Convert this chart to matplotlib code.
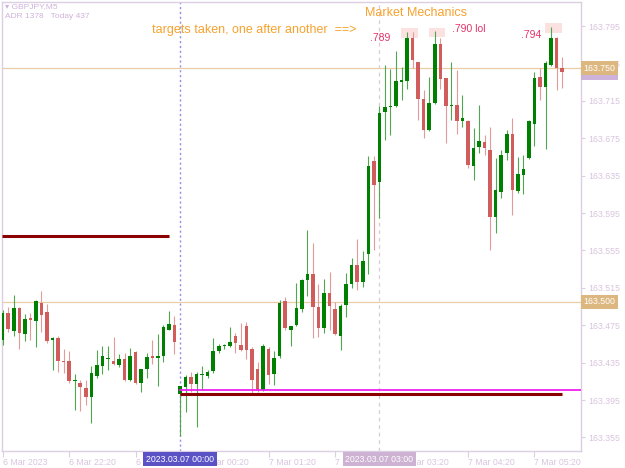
"""GBPJPY M5 candles with the 'targets taken' annotations, MT4 look."""
import matplotlib

matplotlib.use("Agg")
import matplotlib.pyplot as plt
import numpy as np
from matplotlib.patches import Rectangle
from matplotlib.transforms import blended_transform_factory

W, H = 625, 468

# OHLC per M5 bar, 6 Mar 21:20 -> 7 Mar 05:45
opens = [
    163.459, 163.488, 163.469, 163.493, 163.466, 163.482, 163.479, 163.499, 163.489, 163.459,
    163.461, 163.437, 163.437, 163.415, 163.413, 163.408, 163.398, 163.421, 163.431, 163.439,
    163.437, 163.432, 163.439, 163.416, 163.446, 163.413, 163.428, 163.442, 163.440, 163.442,
    163.470, 163.475, 163.401, 163.409, 163.420, 163.412, 163.422, 163.421, 163.426, 163.447,
    163.453, 163.453, 163.464, 163.454, 163.474, 163.450, 163.428, 163.406, 163.450, 163.423,
    163.442, 163.501, 163.470, 163.475, 163.492, 163.523, 163.530, 163.494, 163.472, 163.510,
    163.492, 163.464, 163.497, 163.519, 163.539, 163.521, 163.551, 163.651, 163.628, 163.703,
    163.708, 163.709, 163.735, 163.736, 163.782, 163.757, 163.717, 163.684, 163.713, 163.776,
    163.739, 163.709, 163.711, 163.693, 163.693, 163.645, 163.666, 163.671, 163.662, 163.591,
    163.618, 163.659, 163.679, 163.619, 163.636, 163.654, 163.690, 163.741, 163.730, 163.753,
    163.782, 163.750,
]
highs = [
    163.491, 163.495, 163.507, 163.494, 163.487, 163.488, 163.502, 163.512, 163.498, 163.462,
    163.464, 163.450, 163.447, 163.423, 163.416, 163.416, 163.431, 163.448, 163.453, 163.453,
    163.462, 163.444, 163.445, 163.451, 163.447, 163.428, 163.445, 163.459, 163.466, 163.475,
    163.490, 163.485, 163.410, 163.422, 163.425, 163.425, 163.431, 163.427, 163.461, 163.455,
    163.455, 163.473, 163.467, 163.477, 163.478, 163.452, 163.436, 163.455, 163.452, 163.447,
    163.502, 163.505, 163.474, 163.520, 163.524, 163.577, 163.563, 163.519, 163.524, 163.532,
    163.500, 163.498, 163.531, 163.547, 163.567, 163.554, 163.656, 163.656, 163.709, 163.753,
    163.749, 163.768, 163.751, 163.789, 163.789, 163.757, 163.727, 163.741, 163.790, 163.782,
    163.739, 163.757, 163.748, 163.721, 163.694, 163.686, 163.711, 163.678, 163.687, 163.654,
    163.662, 163.684, 163.697, 163.655, 163.657, 163.694, 163.746, 163.750, 163.758, 163.794,
    163.783, 163.762,
]
lows = [
    163.454, 163.468, 163.464, 163.450, 163.458, 163.459, 163.452, 163.468, 163.456, 163.427,
    163.425, 163.424, 163.413, 163.384, 163.383, 163.390, 163.370, 163.419, 163.423, 163.427,
    163.432, 163.430, 163.415, 163.415, 163.412, 163.404, 163.419, 163.434, 163.410, 163.436,
    163.470, 163.444, 163.357, 163.382, 163.404, 163.366, 163.406, 163.419, 163.424, 163.445,
    163.450, 163.452, 163.445, 163.447, 163.439, 163.402, 163.404, 163.405, 163.412, 163.411,
    163.440, 163.470, 163.453, 163.474, 163.489, 163.506, 163.461, 163.462, 163.467, 163.470,
    163.465, 163.449, 163.484, 163.515, 163.513, 163.516, 163.530, 163.555, 163.590, 163.673,
    163.678, 163.708, 163.716, 163.728, 163.750, 163.695, 163.675, 163.683, 163.712, 163.728,
    163.670, 163.695, 163.680, 163.687, 163.643, 163.630, 163.659, 163.657, 163.555, 163.574,
    163.611, 163.652, 163.593, 163.616, 163.615, 163.653, 163.667, 163.716, 163.664, 163.752,
    163.727, 163.729,
]
closes = [
    163.488, 163.471, 163.493, 163.467, 163.482, 163.481, 163.501, 163.486, 163.458, 163.461,
    163.437, 163.436, 163.415, 163.416, 163.409, 163.398, 163.424, 163.432, 163.442, 163.440,
    163.434, 163.439, 163.416, 163.442, 163.413, 163.428, 163.441, 163.440, 163.442, 163.473,
    163.476, 163.457, 163.410, 163.420, 163.412, 163.423, 163.423, 163.425, 163.447, 163.453,
    163.454, 163.457, 163.456, 163.448, 163.449, 163.416, 163.406, 163.453, 163.422, 163.440,
    163.499, 163.472, 163.474, 163.493, 163.523, 163.530, 163.494, 163.472, 163.510, 163.496,
    163.466, 163.496, 163.519, 163.539, 163.521, 163.544, 163.645, 163.625, 163.702, 163.708,
    163.709, 163.736, 163.737, 163.782, 163.759, 163.717, 163.684, 163.713, 163.776, 163.738,
    163.709, 163.711, 163.693, 163.697, 163.646, 163.665, 163.672, 163.665, 163.591, 163.620,
    163.657, 163.679, 163.620, 163.637, 163.642, 163.693, 163.739, 163.730, 163.755, 163.782,
    163.750, 163.746,
]

xtick_pos = [0, 12, 24, 36, 48, 60, 72, 84, 96]
xtick_labels = ["6 Mar 2023", "6 Mar 22:20", "6 Mar 23:20", "7 Mar 00:20", "7 Mar 01:20",
                "7 Mar 02:20", "7 Mar 03:20", "7 Mar 04:20", "7 Mar 05:20"]
price_ticks = [163.355, 163.395, 163.435, 163.475, 163.515, 163.555,
               163.595, 163.635, 163.675, 163.715, 163.755, 163.795]

# levels drawn on the chart
level_hi = 163.750
level_lo = 163.500
old_zone = 163.570      # maroon line, left part
new_zone = 163.401      # maroon line, right part
new_zone_top = 163.406  # magenta line
bar_midnight = 32       # 2023.03.07 00:00
bar_three = 68          # 2023.03.07 03:00

# highlighted highs: (first bar, last bar, low price, high price)
high_boxes = [(71.9, 74.9, 163.7818, 163.7925),
              (76.95, 79.85, 163.7836, 163.7925),
              (97.9, 100.9, 163.7872, 163.7979)]
high_notes = [(66.3, 163.782, ".789"), (81.2, 163.7915, ".790 lol"), (93.6, 163.7857, ".794")]

GREEN = "#008000"
RED = "#D05C5C"
FRAME = "#DCCFE3"
AXIS_TXT = "#D9C4DE"
TAN = "#EBCDA5"
ORANGE = "#F7A22E"
PINK_TXT = "#E3336A"

plt.rcParams["font.family"] = ["Liberation Sans", "DejaVu Sans"]


def main() -> None:
    fig = plt.figure(figsize=(W / 100, H / 100), dpi=100)
    ax = fig.add_axes([2 / W, 1 - 450.7 / H, 579 / W, 448.7 / H])
    ax.set_xlim(-0.13, 104.4)
    ax.set_ylim(163.3408, 163.8207)

    o = np.array(opens)
    c = np.array(closes)
    hi = np.array(highs)
    lo = np.array(lows)
    x = np.arange(len(o))
    up = c >= o

    # pink boxes on the taken highs sit behind the candles
    for x0, x1, y0, y1 in high_boxes:
        ax.add_patch(Rectangle((x0, y0), x1 - x0, y1 - y0, fc="#FCE1E1", ec="none", zorder=1))

    ax.axhline(level_hi, color=TAN, lw=0.9, zorder=2)
    ax.axhline(level_lo, color=TAN, lw=0.9, zorder=2)
    ax.axvline(bar_midnight, color="#8E8EE6", lw=1, ls=(0, (1.5, 2)), zorder=2)
    ax.axvline(bar_three, color="#D9CAD6", lw=0.9, ls=(0, (3, 3)), zorder=2)

    ax.vlines(x[up], lo[up], hi[up], color="#4FA84F", lw=0.8, zorder=3)
    ax.vlines(x[~up], lo[~up], hi[~up], color="#E39A9A", lw=0.8, zorder=3)
    body_lo = np.minimum(o, c)
    body_h = np.maximum(np.abs(c - o), 0.0012)
    ax.bar(x, body_h, bottom=body_lo, width=0.64, color=np.where(up, GREEN, RED),
           lw=0, zorder=4)

    ax.plot([-0.13, 30.0], [old_zone] * 2, color="#8B0000", lw=2.2, solid_capstyle="butt", zorder=5)
    ax.plot([bar_midnight, 104.4], [new_zone_top] * 2, color="#F020F0", lw=1.3, zorder=5)
    ax.plot([bar_midnight, 101.0], [new_zone] * 2, color="#8B0000", lw=2.2, solid_capstyle="butt", zorder=5)

    for xi, yi, txt in high_notes:
        ax.text(xi, yi, txt, color=PINK_TXT, fontsize=7.5, va="center", ha="left", zorder=6)

    # axes styling, MT4-like
    for sp in ax.spines.values():
        sp.set_color(FRAME)
        sp.set_linewidth(1)
    ax.yaxis.tick_right()
    ax.set_yticks(price_ticks)
    ax.set_yticklabels([f"{p:.3f}" for p in price_ticks])
    ax.set_xticks(xtick_pos)
    ax.set_xticklabels(xtick_labels)
    ax.tick_params(axis="y", colors=FRAME, labelcolor=AXIS_TXT, labelsize=6.3, length=3, pad=2)
    ax.tick_params(axis="x", colors=FRAME, labelcolor=AXIS_TXT, labelsize=6.3, length=4, pad=1.5)
    for lab in ax.get_xticklabels():
        lab.set_ha("left")

    # price tags on the right scale
    tr_y = blended_transform_factory(ax.transAxes, ax.transData)
    box = dict(boxstyle="square,pad=0.3", ec="none")
    ax.text(1.004, 163.745, "163.745", transform=tr_y, fontsize=6.3, color="white",
            va="center", ha="left", bbox=dict(box, fc="#CDB3D9"), clip_on=False, zorder=9)
    for p in (level_hi, level_lo):
        ax.text(1.004, p, f"{p:.3f}", transform=tr_y, fontsize=6.3, color="white",
                va="center", ha="left", bbox=dict(box, fc="#DDB780"), clip_on=False, zorder=10)

    # time tags on the bottom scale
    tr_x = blended_transform_factory(ax.transData, ax.transAxes)
    ax.text(bar_midnight, -0.0185, "2023.03.07 00:00", transform=tr_x, fontsize=6.3, color="white",
            va="center", ha="center", bbox=dict(box, fc="#5B52C6"), clip_on=False, zorder=10)
    ax.text(bar_three, -0.0185, "2023.03.07 03:00", transform=tr_x, fontsize=6.3, color="white",
            va="center", ha="center", bbox=dict(box, fc="#CDB2D3"), clip_on=False, zorder=10)

    # free text on the chart (figure pixels)
    fig.text(5 / W, 1 - 7 / H, "\u25be GBPJPY,M5", color="#CFB3DA", fontsize=6, va="center")
    fig.text(5 / W, 1 - 17 / H, "ADR 1378   Today 437", color="#CFB3DA", fontsize=6, va="center")
    fig.text(365 / W, 1 - 13 / H, "Market Mechanics", color=ORANGE, fontsize=9, va="center")
    fig.text(152 / W, 1 - 30 / H, "targets taken, one after another  ==>", color=ORANGE,
             fontsize=9, va="center")

    fig.savefig("out.png", dpi=100)
    plt.close(fig)


if __name__ == "__main__":
    main()
